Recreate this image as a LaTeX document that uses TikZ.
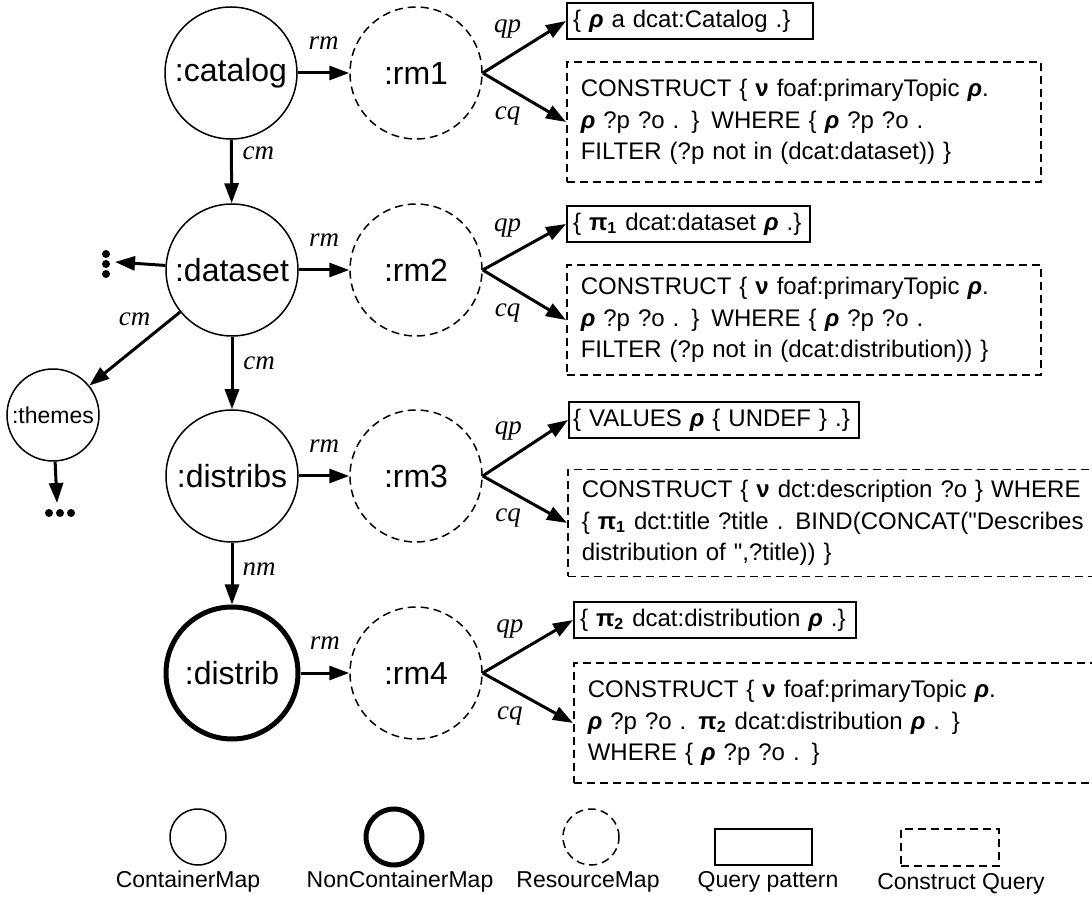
\documentclass[tikz,border=0pt]{standalone}
\usepackage{fontspec}
\setmainfont{Liberation Sans}[Ligatures=TeXOff]
\newfontfamily\lblfont{Liberation Serif}
\usetikzlibrary{arrows.meta}
\newcommand{\rhob}{\textbf{\textit{ρ}}}
\newcommand{\nub}{\textbf{ν}}
\newcommand{\pib}[1]{\textbf{π\textsubscript{#1}}}

\tikzset{
	cmap/.style={circle, draw, line width=0.75pt, minimum size=66pt, inner sep=0pt, font=\fontsize{16}{18}\selectfont},
	ncmap/.style={cmap, line width=2.5pt},
	rmap/.style={cmap, dash pattern=on 4pt off 2.5pt},
	qpbox/.style={draw, line width=1pt, anchor=west, inner xsep=3pt, inner ysep=0pt, minimum height=18pt, align=left, font=\fontsize{12}{14}\selectfont},
	cqbox/.style={draw, line width=0.8pt, dash pattern=on 4pt off 2.5pt, anchor=west, inner xsep=7pt, inner ysep=0pt, align=left, font=\fontsize{12}{15.8}\selectfont},
	link/.style={-{Triangle[length=10pt,width=7pt]}, line width=1.5pt},
	elab/.style={font=\lblfont\itshape\fontsize{13.5}{15}\selectfont, inner sep=0pt},
	lgtext/.style={anchor=base, font=\fontsize{11.5}{13}\selectfont, inner sep=0pt}
}

\begin{document}
\begin{tikzpicture}[x=0.5pt, y=-0.5pt]
		%%%%% START %%%%%
		\useasboundingbox (0,0) rectangle (1092,897);
		\clip (0,0) rectangle (1092,897);
		
		\node[cmap] (catalog) at (231,73) {:catalog};
		\node[rmap] (rm1) at (416,73) {:rm1};
		\node[qpbox, text width=117pt] (qp1) at (566,21) {\{ \rhob{} a dcat:Catalog .\}};
		\node[cqbox, text width=223pt, minimum height=60pt] (cq1) at (566,122) {CONSTRUCT \{ \nub{} foaf:primaryTopic \rhob.\\ \rhob{} ?p ?o . \} WHERE \{ \rhob{} ?p ?o .\\ FILTER (?p not in (dcat:dataset)) \}};
		
		\node[cmap] (dataset) at (232,270) {:dataset};
		\node[rmap] (rm2) at (416,270) {:rm2};
		\node[qpbox, text width=115.5pt] (qp2) at (566,224) {\{ \pib{1} dcat:dataset \rhob{} .\}};
		\node[cqbox, text width=223pt, minimum height=55pt] (cq2) at (566,320) {CONSTRUCT \{ \nub{} foaf:primaryTopic \rhob.\\ \rhob{} ?p ?o . \} WHERE \{ \rhob{} ?p ?o .\\ FILTER (?p not in (dcat:distribution)) \}};
		
		\node[cmap, minimum size=46pt, font=\fontsize{11.5}{13}\selectfont] (themes) at (53,415) {:themes};
		\coordinate (more1) at (115,262);
		\coordinate (more2) at (57,503);
		\fill (106,254) circle (2pt) (106,264) circle (2pt) (106,274) circle (2pt);
		\fill (49,513) circle (2pt) (60,513) circle (2pt) (71,513) circle (2pt);
		
		\node[cmap] (distribs) at (232,476) {:distribs};
		\node[rmap] (rm3) at (416,476) {:rm3};
		\node[qpbox, inner xsep=2pt, text width=141pt] (qp3) at (568,420) {\{ VALUES \rhob{} \{ UNDEF \} .\}};
		\node[cqbox, text width=252pt, minimum height=53.5pt] (cq3) at (567,523) {CONSTRUCT \{ \nub{} dct:description ?o \} WHERE\\ \{ \pib{1} dct:title ?title . BIND(CONCAT("Describes\\ distribution of ",?title)) \}};
		
		\node[ncmap] (distrib) at (232,673) {:distrib};
		\node[rmap] (rm4) at (416,673) {:rm4};
		\node[qpbox, text width=135pt] (qp4) at (573,620) {\{ \pib{2} dcat:distribution \rhob{} .\}};
		\node[cqbox, text width=249.5pt, minimum height=60pt] (cq4) at (573,723) {CONSTRUCT \{ \nub{} foaf:primaryTopic \rhob.\\ \rhob{} ?p ?o . \pib{2} dcat:distribution \rhob{} . \}\\ WHERE \{ \rhob{} ?p ?o . \}};
		
		\draw[link] (catalog) -- node[elab, yshift=15pt] {rm} (rm1);
		\draw[link] (dataset) -- node[elab, yshift=15pt] {rm} (rm2);
		\draw[link] (distribs) -- node[elab, yshift=15pt] {rm} (rm3);
		\draw[link] (distrib) -- node[elab, yshift=15pt] {rm} (rm4);
		
		\draw[link] (catalog) -- node[elab, pos=0.22, xshift=13.5pt] {cm} (dataset);
		\draw[link] (dataset) -- node[elab, pos=0.36, xshift=13.5pt] {cm} (distribs);
		\draw[link] (distribs) -- node[elab, pos=0.43, xshift=13.5pt] {nm} (distrib);
		\draw[link] (dataset) -- node[elab, yshift=15pt] {cm} (themes);
		\draw[link] (dataset) -- (more1);
		\draw[link] (themes) -- (more2);
		
		\draw[link] (rm1.east) -- node[elab, pos=0.3, yshift=14pt] {qp} (qp1.west);
		\draw[link] (rm1.east) -- node[elab, pos=0.3, yshift=-14pt] {cq} (cq1.west);
		\draw[link] (rm2.east) -- node[elab, pos=0.3, yshift=14pt] {qp} (qp2.west);
		\draw[link] (rm2.east) -- node[elab, pos=0.3, yshift=-14pt] {cq} (cq2.west);
		\draw[link] (rm3.east) -- node[elab, pos=0.3, yshift=14pt] {qp} (qp3.west);
		\draw[link] (rm3.east) -- node[elab, pos=0.3, yshift=-14pt] {cq} (cq3.west);
		\draw[link] (rm4.east) -- node[elab, pos=0.3, yshift=14pt] {qp} (qp4.west);
		\draw[link] (rm4.east) -- node[elab, pos=0.3, yshift=-14pt] {cq} (cq4.west);
		
		\node[cmap, minimum size=28pt] (lgcont) at (198,837) {};
		\node[ncmap, minimum size=28pt] (lgnoncont) at (394,837) {};
		\node[rmap, minimum size=28pt] (lgres) at (591,837) {};
		\node[draw, line width=1pt, minimum width=48.5pt, minimum height=18pt, inner sep=0pt] (lgqp) at (763.5,847) {};
		\node[draw, line width=0.8pt, dash pattern=on 4pt off 2.5pt, minimum width=49pt, minimum height=18.5pt, inner sep=0pt] (lgcq) at (950,847.5) {};
		\node[lgtext] (lgconttxt) at (188,887) {ContainerMap};
		\node[lgtext] (lgnoncontxt) at (400,887) {NonContainerMap};
		\node[lgtext] (lgrestxt) at (588,887) {ResourceMap};
		\node[lgtext] (lgqptxt) at (768,887) {Query pattern};
		\node[lgtext] (lgcqtxt) at (961,889) {Construct Query};
		
		%%%%% END %%%%%
\end{tikzpicture}
\end{document}
